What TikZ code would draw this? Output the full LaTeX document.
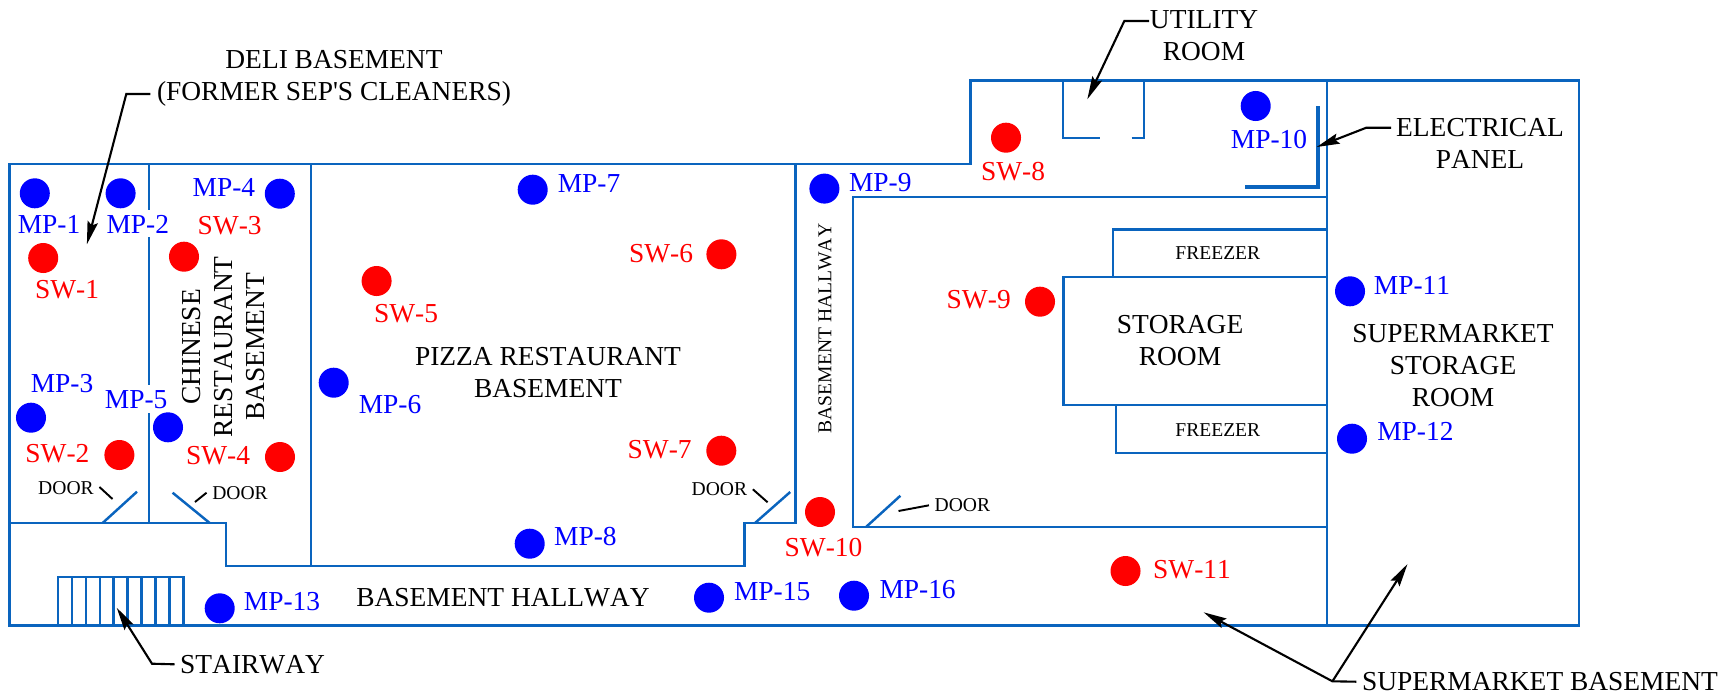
\documentclass[tikz,border=0pt]{standalone}
\usepackage{fontspec}
\setmainfont{Liberation Serif}[Ligatures=TeXOff, Kerning=Off]
\usetikzlibrary{arrows.meta}

\definecolor{wallblue}{RGB}{10,100,190}

\tikzset{
  wallline/.style={draw=wallblue, line width=0.7pt, line join=miter},
  leaderline/.style={draw=black, line width=0.6pt, -{Stealth[length=2.3mm, width=1.05mm, inset=0.35mm]}},
  doortick/.style={draw=black, line width=0.55pt},
  roomtext/.style={font=\fontsize{7.8}{9.1}\selectfont, align=center, inner sep=0pt},
  smalltext/.style={font=\fontsize{5.57}{7}\selectfont, align=center, inner sep=0pt},
  sensordot/.style={circle, fill=#1, minimum size=3mm, inner sep=0pt},
  sensorlabel/.style={text=#1, font=\fontsize{7.8}{9.1}\selectfont, inner sep=0pt}
}

\begin{document}
\begin{tikzpicture}[x=0.01cm, y=-0.01cm]

  \useasboundingbox (0, 0) rectangle (1719, 694);

  % Outer walls
  \draw[wallline] (9.6, 164) -- (970.3, 164) -- (970.3, 80.7) -- (1579, 80.7) -- (1579, 625.7) -- (9.6, 625.7) -- cycle;

  % Deli, Chinese restaurant and pizza restaurant basements
  \draw[wallline] (9.6, 523) -- (226, 523) -- (226, 566) -- (744.7, 566) -- (744.7, 523) -- (795.6, 523) -- (795.6, 164);
  \draw[wallline] (148.9, 164) -- (148.9, 210);
  \draw[wallline] (148.9, 237) -- (148.9, 385);
  \draw[wallline] (148.9, 413) -- (148.9, 523);
  \draw[wallline] (311, 164) -- (311, 566);

  % Supermarket side
  \draw[wallline] (1327, 80.7) -- (1327, 625.7);
  \draw[wallline] (1327, 197) -- (853, 197) -- (853, 527) -- (1327, 527);
  \draw[wallline] (1327, 229.3) -- (1113, 229.3) -- (1113, 277);
  \draw[wallline] (1327, 277) -- (1063.3, 277) -- (1063.3, 405) -- (1327, 405);
  \draw[wallline] (1116, 405) -- (1116, 453) -- (1327, 453);

  % Utility room
  \draw[wallline] (1063, 80.7) -- (1063, 138) -- (1100, 138);
  \draw[wallline] (1131.5, 138) -- (1144, 138) -- (1144, 80.7);

  % Electrical panel
  \draw[wallline, line width=1.2pt] (1318, 106) -- (1318, 187) -- (1244.7, 187);

  % Stairway
  \draw[wallline] (58, 577) rectangle (183.3, 625.7);
  \foreach \i in {1,...,8} {
    \draw[wallline] (58+13.92*\i, 577) -- (58+13.92*\i, 625.7);
  }

  % Doors
  \foreach \xa/\ya/\xb/\yb in {102.6/523/137/491.7, 209.7/523/172.6/492.7, 755/523/790.2/492, 866/527/900.4/495.7} {
    \draw[wallline] (\xa, \ya) -- (\xb, \yb);
  }

  % Room names
  \node[roomtext] (deli) at (334, 78) {DELI BASEMENT\\(FORMER SEP'S CLEANERS)};
  \node[roomtext] (utility) at (1204, 36) {UTILITY\\ROOM};
  \node[roomtext] (panel) at (1480, 143) {ELECTRICAL\\PANEL};
  \node[roomtext] (storage) at (1180, 341) {STORAGE\\ROOM};
  \node[roomtext] (market) at (1453, 365.5) {SUPERMARKET\\STORAGE\\ROOM};
  \node[roomtext] (pizza) at (548, 372.5) {PIZZA RESTAURANT\\BASEMENT};
  \node[roomtext, rotate=90] (chinese) at (224, 347) {CHINESE\\RESTAURANT\\BASEMENT};
  \node[roomtext] (hallway) at (503, 597.7) {BASEMENT HALLWAY};
  \node[roomtext] (stairway) at (252.6, 664.3) {STAIRWAY};
  \node[roomtext] (basement) at (1540, 681.7) {SUPERMARKET BASEMENT};
  \node[smalltext, rotate=90] (sidehall) at (825, 328.5) {BASEMENT HALLWAY};
  \node[smalltext] (freezerup) at (1217.8, 253.3) {FREEZER};
  \node[smalltext] (freezerlow) at (1217.8, 430.3) {FREEZER};

  % Door names
  \node[smalltext] (doora) at (66, 488) {DOOR};
  \node[smalltext] (doorb) at (240, 492.7) {DOOR};
  \node[smalltext] (doorc) at (719.4, 489.3) {DOOR};
  \node[smalltext] (doord) at (962.4, 505.3) {DOOR};

  % Monitoring points
  \foreach \name/\x/\y/\lx/\ly in {1/34.8/193.3/49/224.3, 2/120.6/193.3/137.8/224, 3/31/417.7/62/383.3, 4/279.8/193.7/223.9/187.7,
    5/168/427.3/136.2/400, 6/333.7/382.7/390/404.3, 7/532.7/189.7/589/184, 8/529.7/543.7/585.4/537,
    9/824.4/188.6/880.3/183, 10/1255.7/106/1269/139.3, 11/1350/291.3/1412/285, 12/1352/438.7/1415.4/431.7,
    13/219.7/608.3/282/601.7, 15/709/597.7/772.2/591.3, 16/854/595.7/917.6/589.7} {
    \node[sensorlabel=blue] (mptext\name) at (\lx, \ly) {MP-\name};
    \node[sensordot=blue] (mp\name) at (\x, \y) {};
  }

  % Soil vapor points
  \foreach \name/\x/\y/\lx/\ly in {1/43.2/258/67/289.3, 2/119.4/455/57.4/453.3, 3/184/256.7/229.6/225.7, 4/280/457/218/455.3,
    5/376.6/281/406/313.7, 6/721.4/254.3/661/254, 7/721.3/450.7/659.7/449.3, 8/1006/137.7/1013/171.7,
    9/1040/301.7/978.7/300, 10/820/512/823.5/547.3, 11/1125.5/571/1192/569.7} {
    \node[sensorlabel=red] (swtext\name) at (\lx, \ly) {SW-\name};
    \node[sensordot=red] (sw\name) at (\x, \y) {};
  }

  % Door ticks
  \coordinate (tickaend) at (112.5, 499);
  \coordinate (tickbend) at (195, 502);
  \coordinate (tickcend) at (767.6, 502.3);
  \coordinate (tickdend) at (898.5, 511);
  \draw[doortick] ([xshift=0.5mm, yshift=0.1mm]doora.east) -- (tickaend);
  \draw[doortick] ([xshift=-0.5mm]doorb.west) -- (tickbend);
  \draw[doortick] ([xshift=0.5mm]doorc.east) -- (tickcend);
  \draw[doortick] ([xshift=-0.5mm]doord.west) -- (tickdend);

  % Leaders
  \coordinate (delibend) at (126.3, 94);
  \coordinate (delitip) at (86.9, 244.3);
  \coordinate (utilstart) at (1149, 21);
  \coordinate (utilbend) at (1124.3, 21);
  \coordinate (utiltip) at (1087.3, 99.3);
  \coordinate (panelstart) at (1391, 127.7);
  \coordinate (panelbend) at (1366.3, 127.7);
  \coordinate (paneltip) at (1316.7, 147);
  \coordinate (stairbend) at (152, 663.7);
  \coordinate (stairtip) at (116.7, 607.7);
  \coordinate (marketbend) at (1332.4, 681.3);
  \coordinate (markettipa) at (1203.6, 612.3);
  \coordinate (markettipb) at (1407.5, 564);

  \draw[leaderline] ([xshift=-0.6mm]deli.west |- delibend) -- (delibend) -- (delitip);
  \draw[leaderline] (utilstart) -- (utilbend) -- (utiltip);
  \draw[leaderline] (panelstart) -- (panelbend) -- (paneltip);
  \draw[leaderline] ([xshift=-0.5mm]stairway.west) -- (stairbend) -- (stairtip);
  \draw[leaderline] ([xshift=-0.5mm]basement.west) -- (marketbend) -- (markettipa);
  \draw[leaderline] (marketbend) -- (markettipb);

\end{tikzpicture}
\end{document}
